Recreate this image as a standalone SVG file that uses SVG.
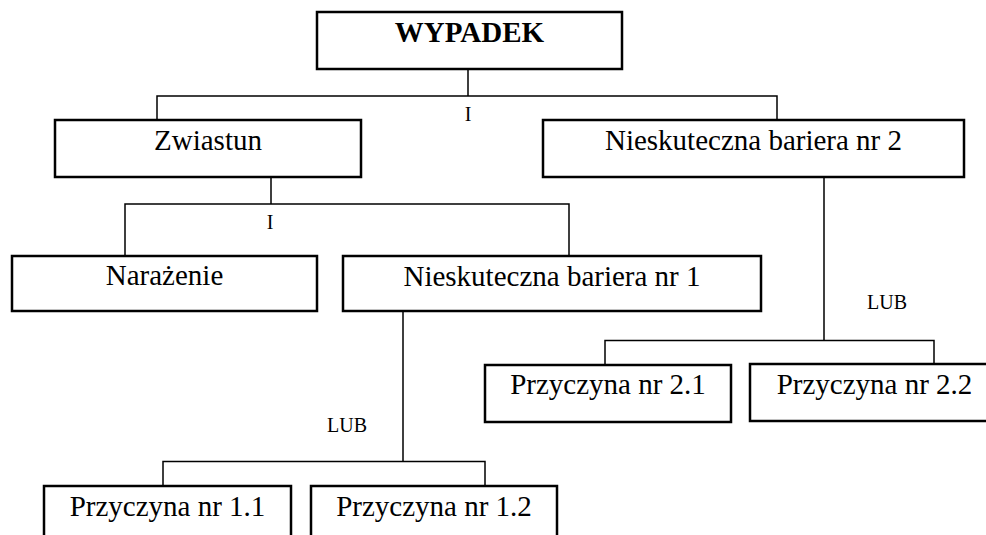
<svg xmlns="http://www.w3.org/2000/svg" width="986" height="535" viewBox="0 0 986 535">
<style>
.box{fill:#fff;stroke:#000;stroke-width:2.5}
.t{font-family:"Liberation Serif","Times New Roman",serif;font-size:29px;fill:#000;text-anchor:middle}
.b{font-weight:bold}
.s{font-family:"Liberation Serif","Times New Roman",serif;font-size:20px;fill:#000;text-anchor:middle}
.c{fill:none;stroke:#000;stroke-width:1.5}
</style>
<rect width="986" height="535" fill="#fff"/>
<g id="connectors">
<path class="c" d="M468,69V96M157,120V96H777V120"/>
<path class="c" d="M271,177V204M125,256V204H569V256"/>
<path class="c" d="M824,177V340.5M605,365V340.5H934V364"/>
<path class="c" d="M403,311V461.5M163,486V461.5H485V486"/>
<text class="s" x="468" y="121">I</text>
<text class="s" x="270" y="229">I</text>
<text class="s" x="347" y="432">LUB</text>
<text class="s" x="887" y="309">LUB</text>
</g>
<g id="wypadek"><rect class="box" x="317" y="12" width="305" height="57"/><text class="t b" x="469.5" y="42">WYPADEK</text></g>
<g id="zwiastun"><rect class="box" x="55" y="120" width="306" height="57"/><text class="t" x="208" y="150">Zwiastun</text></g>
<g id="bariera2"><rect class="box" x="543" y="120" width="421" height="57"/><text class="t" x="753.5" y="150">Nieskuteczna bariera nr 2</text></g>
<g id="narazenie"><rect class="box" x="12" y="256" width="305" height="55"/><text class="t" x="164.5" y="285">Narażenie</text></g>
<g id="bariera1"><rect class="box" x="343" y="256" width="418" height="55"/><text class="t" x="552" y="286">Nieskuteczna bariera nr 1</text></g>
<g id="przyczyna21"><rect class="box" x="485" y="365" width="246" height="57"/><text class="t" x="608" y="394">Przyczyna nr 2.1</text></g>
<g id="przyczyna22"><rect class="box" x="750" y="364" width="250" height="57"/><text class="t" x="874.5" y="394">Przyczyna nr 2.2</text></g>
<g id="przyczyna11"><rect class="box" x="44" y="486" width="247" height="60"/><text class="t" x="167.5" y="516">Przyczyna nr 1.1</text></g>
<g id="przyczyna12"><rect class="box" x="311" y="486" width="246" height="60"/><text class="t" x="434" y="516">Przyczyna nr 1.2</text></g>
</svg>
